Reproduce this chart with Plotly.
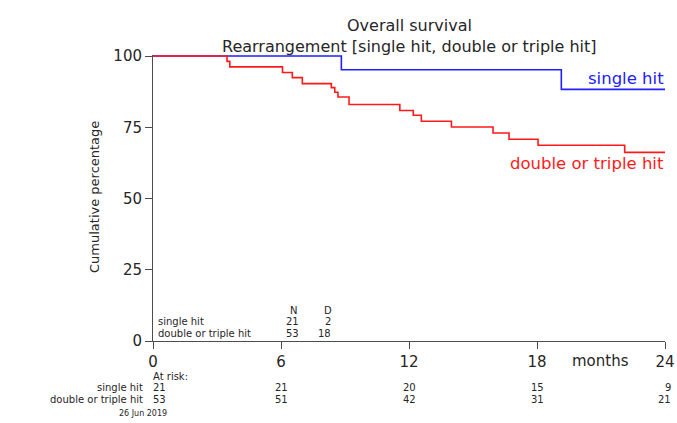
import plotly.graph_objects as go

# ---- data ----
single_t = [0, 8.83, 19.14, 24]
single_s = [100, 95.2, 88.3, 88.3]

dt_t = [0, 3.47, 3.6, 6.07, 6.53, 7.0, 8.36, 8.52, 8.67, 9.19, 11.57, 12.2, 12.58,
        13.99, 15.94, 16.69, 18.05, 22.11, 24]
dt_s = [100, 98.1, 96.2, 94.2, 92.4, 90.3, 88.9, 87.3, 85.6, 83.0, 80.9, 79.2, 77.1,
        75.1, 73.0, 70.8, 68.7, 66.2, 66.2]

group_names = ["single hit", "double or triple hit"]
group_N = [21, 53]
group_D = [2, 18]

risk_times = [0, 6, 12, 18, 24]
risk_single = [21, 21, 20, 15, 9]
risk_double = [53, 51, 42, 31, 21]

x_ticks = [0, 6, 12, 18, 24]
y_ticks = [0, 25, 50, 75, 100]

# ---- layout helpers ----
W, H = 677, 423
L, R, T, B = 153, 12, 55, 82
PW, PH = W - L - R, H - T - B


def xp(px):
    return (px - L) / PW


def yp(py):
    return (H - B - py) / PH


FONT = "DejaVu Sans, Verdana, sans-serif"
TXT = "#262626"
AX = "#4d4d4d"

fig = go.Figure()
fig.add_trace(go.Scatter(x=single_t, y=single_s, mode="lines", line_shape="hv",
                         line=dict(color="#1f1fff", width=1.6), showlegend=False))
fig.add_trace(go.Scatter(x=dt_t, y=dt_s, mode="lines", line_shape="hv",
                         line=dict(color="#ff1a1a", width=1.6), showlegend=False))

ann = []


def a(text, px, py, size, anchor="center", color=TXT, angle=0):
    ann.append(dict(text=text, x=xp(px), y=yp(py), xref="paper", yref="paper",
                    xanchor=anchor, yanchor="middle", showarrow=False, textangle=angle,
                    borderpad=0,
                    font=dict(family=FONT, size=size, color=color)))


SMALL = 10
# titles
a("Overall survival", 409, 25, 16)
a("Rearrangement [single hit, double or triple hit]", 409, 46, 16)
# y title
a("Cumulative percentage", 94, 197, 13, angle=-90)
# curve labels
a("single hit", 665, 78, 16.5, anchor="right", color="#2020ff")
a("double or triple hit", 665, 163, 16.5, anchor="right", color="#ff1a1a")
# months label
a("months", 600, 361, 15)

# N / D table
a("N", 298, 310, SMALL, anchor="right")
a("D", 333, 310, SMALL, anchor="right")
for i, (nm, n, d) in enumerate(zip(group_names, group_N, group_D)):
    yy = 321.5 + i * 11.5
    a(nm, 157, yy, SMALL, anchor="left")
    a(str(n), 300, yy, SMALL, anchor="right")
    a(str(d), 332, yy, SMALL, anchor="right")

# at risk table
a("At risk:", 152, 376, SMALL, anchor="left")
for i, (nm, vals) in enumerate(zip(group_names, [risk_single, risk_double])):
    yy = 387.5 + i * 11.5
    a(nm, 144, yy, SMALL, anchor="right")
    for t, v in zip(risk_times, vals):
        px = L + t / 24 * PW
        if t == 0:
            a(str(v), px - 1, yy, SMALL, anchor="left")
        elif t == 24:
            a(str(v), px + 7, yy, SMALL, anchor="right")
        else:
            a(str(v), px, yy, SMALL, anchor="center")

a("26 Jun 2019", 143, 413, 8)

axis_common = dict(showline=True, linecolor=AX, linewidth=1, ticks="outside",
                   ticklen=7, tickcolor=AX, showgrid=False, zeroline=False,
                   automargin=False, tickfont=dict(family=FONT, size=15, color=TXT))

fig.update_layout(
    template="none",
    width=W, height=H, autosize=False,
    margin=dict(l=L, r=R, t=T, b=B, pad=0),
    paper_bgcolor="white", plot_bgcolor="white",
    font=dict(family=FONT, size=15, color=TXT),
    annotations=ann,
    xaxis=dict(range=[0, 24], tickvals=x_ticks, ticktext=[str(v) for v in x_ticks],
               **axis_common),
    yaxis=dict(range=[0, 100.35], tickvals=y_ticks, ticktext=[str(v) for v in y_ticks],
               **axis_common),
)

fig.write_html(
    "out.html",
    config={"displayModeBar": False, "responsive": False},
    post_script="document.body.style.margin='0';document.body.style.overflow='hidden';",
)
